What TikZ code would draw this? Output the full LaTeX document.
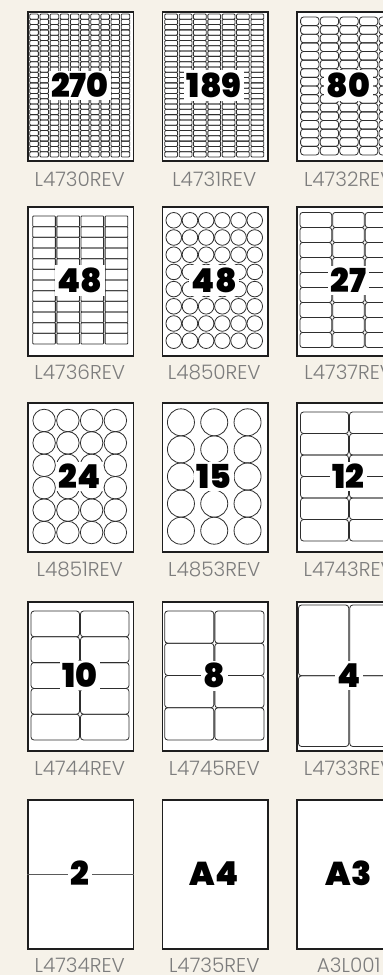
\documentclass[tikz,border=0pt]{standalone}
\usepackage{fontspec}
\setmainfont{Poppins}
\IfFontExistsTF{Poppins Light}{\newfontfamily\lblfont{Poppins Light}}{\newfontfamily\lblfont{Poppins}}
\IfFontExistsTF{Poppins ExtraBold}{\newfontfamily\numfont{Poppins ExtraBold}}{\newfontfamily\numfont{Poppins}[UprightFont=*,BoldFont=* Bold]\def\numbold{1}}
\definecolor{bg}{HTML}{F6F2E9}
\definecolor{lblc}{HTML}{7D7D7D}
\definecolor{ink}{HTML}{1E1E1E}
\definecolor{cellc}{HTML}{2E2E2E}
\definecolor{midline}{HTML}{5A5A5A}
\tikzset{
  sheet/.style={draw=ink, line width=1.5pt, fill=white, minimum width=105.5pt, minimum height=149pt, anchor=north west, inner sep=0pt},
  cell/.style={draw=cellc, line width=0.8pt},
  num/.style={fill=white, inner sep=2.5pt, text=black, font=\numfont\bfseries\fontsize{33}{33}\selectfont},
  lbl/.style={text=lblc, anchor=base, inner sep=0pt, font=\lblfont\fontsize{20}{20}\selectfont},
}
\newcommand\rgrid[8]{%
  \pgfmathsetmacro\gcw{(#5-#3)/#1}%
  \pgfmathsetmacro\gch{(#6-#4)/#2}%
  \foreach \i in {1,...,#1}{\foreach \j in {1,...,#2}{%
    \draw[cell, rounded corners=#7pt] ({#3+(\i-1)*\gcw+#8/2},{#4+(\j-1)*\gch}) rectangle ++({\gcw-#8},{\gch});
  }}}
\newcommand\cgrid[5]{%
  \pgfmathsetmacro\gr{#5/2}%
  \foreach \i in {1,...,#1}{\foreach \j in {1,...,#2}{%
    \draw[cell] ({52.75+(\i-(#1+1)/2)*#3},{74.5+(\j-(#2+1)/2)*#4}) circle[radius=\gr pt];
  }}}
\begin{document}
\begin{tikzpicture}[x=1pt,y=-1pt]
\fill[bg] (0,0) rectangle (383,975);
\useasboundingbox (0,0) rectangle (383,975);
\clip (0,0) rectangle (383,975);

% ---------- row 1 ----------
\begin{scope}[shift={(27,11)}]
  \node[sheet] (s1) at (0,0) {};
  \rgrid{10}{27}{2}{3}{103.5}{146}{1}{1.6}
  \node[num] (n1) at (52.75,74.5) {270};
  \node[lbl] (l1) at (52.75,175.5) {L4730REV};
\end{scope}
\begin{scope}[shift={(161.5,11)}]
  \node[sheet] (s2) at (0,0) {};
  \rgrid{7}{27}{2.5}{3}{103}{146}{1}{1.6}
  \node[num] (n2) at (52.75,74.5) {189};
  \node[lbl] (l2) at (52.75,175.5) {L4731REV};
\end{scope}
\begin{scope}[shift={(296,11)}]
  \node[sheet] (s3) at (0,0) {};
  \rgrid{5}{16}{4}{6}{102}{144}{3}{1.2}
  \node[num] (n3) at (52.75,74.5) {80};
  \node[lbl] (l3) at (52.75,175.5) {L4732REV};
\end{scope}

% ---------- row 2 ----------
\begin{scope}[shift={(27,206)}]
  \node[sheet] (s4) at (0,0) {};
  \rgrid{4}{12}{5}{10}{101.5}{138}{0.8}{1.5}
  \node[num] (n4) at (52.75,74.5) {48};
  \node[lbl] (l4) at (52.75,173) {L4736REV};
\end{scope}
\begin{scope}[shift={(161.5,206)}]
  \node[sheet] (s5) at (0,0) {};
  \cgrid{6}{8}{16.2}{17.2}{15.6}
  \node[num] (n5) at (52.75,74.5) {48};
  \node[lbl] (l5) at (52.75,173) {L4850REV};
\end{scope}
\begin{scope}[shift={(296,206)}]
  \node[sheet] (s6) at (0,0) {};
  \rgrid{3}{9}{3.5}{6.5}{101.5}{141.5}{2.5}{1}
  \node[num] (n6) at (52.75,74.5) {27};
  \node[lbl] (l6) at (52.75,173) {L4737REV};
\end{scope}

% ---------- row 3 ----------
\begin{scope}[shift={(27,402)}]
  \node[sheet] (s7) at (0,0) {};
  \cgrid{4}{6}{23.75}{22.4}{22.5}
  \node[num] (n7) at (52.75,74.5) {24};
  \node[lbl] (l7) at (52.75,174) {L4851REV};
\end{scope}
\begin{scope}[shift={(161.5,402)}]
  \node[sheet] (s8) at (0,0) {};
  \cgrid{3}{5}{33.3}{27.1}{27}
  \node[num] (n8) at (52.75,74.5) {15};
  \node[lbl] (l8) at (52.75,174) {L4853REV};
\end{scope}
\begin{scope}[shift={(296,402)}]
  \node[sheet] (s9) at (0,0) {};
  \rgrid{2}{6}{4}{10}{102}{139}{3}{1}
  \node[num] (n9) at (52.75,74.5) {12};
  \node[lbl] (l9) at (52.75,174) {L4743REV};
\end{scope}

% ---------- row 4 ----------
\begin{scope}[shift={(27,601)}]
  \node[sheet] (s10) at (0,0) {};
  \rgrid{2}{5}{3.5}{10}{102.5}{139}{3}{1}
  \node[num] (n10) at (52.75,74.5) {10};
  \node[lbl] (l10) at (52.75,174) {L4744REV};
\end{scope}
\begin{scope}[shift={(161.5,601)}]
  \node[sheet] (s11) at (0,0) {};
  \rgrid{2}{4}{2.7}{10}{103}{139}{3}{1}
  \node[num] (n11) at (52.75,74.5) {8};
  \node[lbl] (l11) at (52.75,174) {L4745REV};
\end{scope}
\begin{scope}[shift={(296,601)}]
  \node[sheet] (s12) at (0,0) {};
  \rgrid{2}{2}{2}{4}{104.5}{145.5}{3}{1}
  \node[num] (n12) at (52.75,74.5) {4};
  \node[lbl] (l12) at (52.75,174) {L4733REV};
\end{scope}

% ---------- row 5 ----------
\begin{scope}[shift={(27,799)}]
  \node[sheet] (s13) at (0,0) {};
  \draw[midline, line width=1pt] (s13.west) -- (s13.east);
  \node[num] (n13) at (52.75,74.5) {2};
  \node[lbl] (l13) at (52.75,173) {L4734REV};
\end{scope}
\begin{scope}[shift={(161.5,799)}]
  \node[sheet] (s14) at (0,0) {};
  \node[num] (n14) at (52.75,74.5) {A4};
  \node[lbl] (l14) at (52.75,173) {L4735REV};
\end{scope}
\begin{scope}[shift={(296,799)}]
  \node[sheet] (s15) at (0,0) {};
  \node[num] (n15) at (52.75,74.5) {A3};
  \node[lbl] (l15) at (52.75,173) {A3L001};
\end{scope}
\end{tikzpicture}
\end{document}
